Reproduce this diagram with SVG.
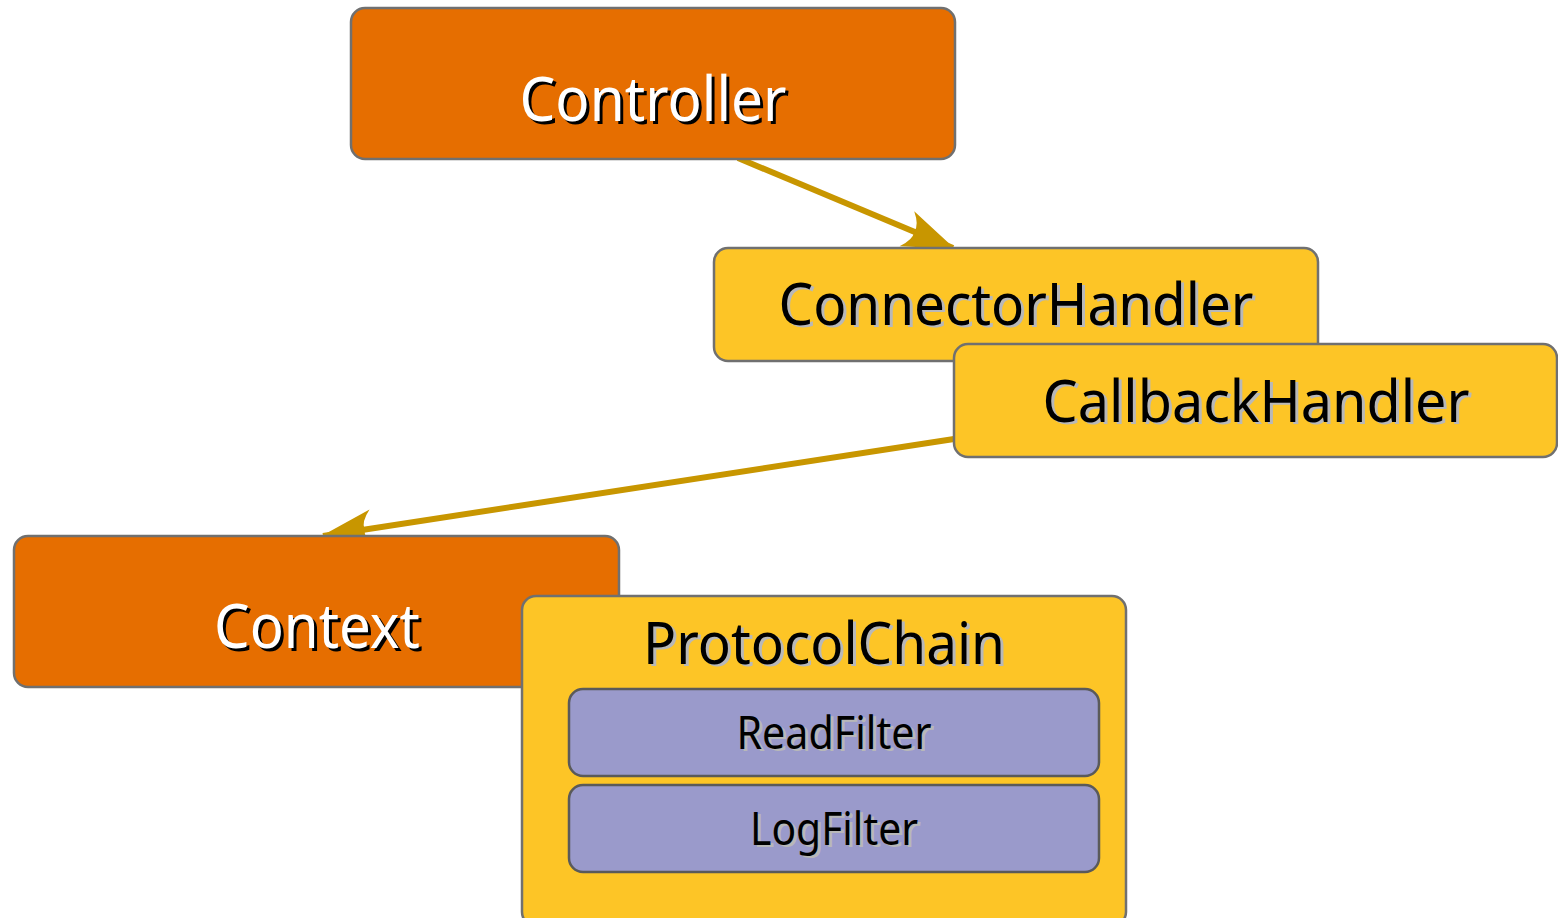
<svg xmlns="http://www.w3.org/2000/svg" width="1558" height="918" viewBox="0 0 1558 918">
<defs>
<style>
.box{stroke:#707070;stroke-width:2.5}
.orange{fill:#E66E00}
.yellow{fill:#FDC526}
.purple{fill:#9A9ACB}
.t{font-family:"Noto Sans","Open Sans",sans-serif;text-anchor:middle}
.tw{fill:#ffffff}
.tws{fill:#000000}
.tb{fill:#000000}
.tbs{fill:#b8b8b8}
.edge{stroke:#C89600;stroke-width:6;fill:none}
</style>
<marker id="arrow" markerUnits="userSpaceOnUse" viewBox="0 0 52 40" refX="50" refY="20" markerWidth="52" markerHeight="40" orient="auto" overflow="visible">
<path d="M0,1 Q10,12 8,20 Q10,28 0,39 L52,20 Z" fill="#C89600"/>
</marker>
</defs>
<g id="connectors">
<path class="edge" d="M738,158 L953,248" marker-end="url(#arrow)"/>
<path class="edge" d="M954,439 L323,536" marker-end="url(#arrow)"/>
</g>
<g id="controller">
<rect class="box orange" x="351" y="8" width="604" height="151" rx="14"/>
<text class="t tws" x="656" y="124" font-size="62" textLength="267" lengthAdjust="spacingAndGlyphs">Controller</text>
<text class="t tw" x="653" y="121" font-size="62" textLength="267" lengthAdjust="spacingAndGlyphs">Controller</text>
</g>
<g id="connectorhandler">
<rect class="box yellow" x="714" y="248" width="604" height="113" rx="14"/>
<text class="t tbs" x="1019" y="327" font-size="58" textLength="475" lengthAdjust="spacingAndGlyphs">ConnectorHandler</text>
<text class="t tb" x="1016" y="325" font-size="58" textLength="475" lengthAdjust="spacingAndGlyphs">ConnectorHandler</text>
</g>
<g id="callbackhandler">
<rect class="box yellow" x="954" y="344" width="603" height="113" rx="14"/>
<text class="t tbs" x="1259" y="424" font-size="58" textLength="427" lengthAdjust="spacingAndGlyphs">CallbackHandler</text>
<text class="t tb" x="1256" y="422" font-size="58" textLength="427" lengthAdjust="spacingAndGlyphs">CallbackHandler</text>
</g>
<g id="context">
<rect class="box orange" x="14" y="536" width="605" height="151" rx="14"/>
<text class="t tws" x="320" y="651" font-size="62" textLength="206" lengthAdjust="spacingAndGlyphs">Context</text>
<text class="t tw" x="317" y="648" font-size="62" textLength="206" lengthAdjust="spacingAndGlyphs">Context</text>
</g>
<g id="protocolchain">
<rect class="box yellow" x="522" y="596" width="604" height="330" rx="14"/>
<text class="t tbs" x="827" y="666" font-size="58" textLength="362" lengthAdjust="spacingAndGlyphs">ProtocolChain</text>
<text class="t tb" x="824" y="664" font-size="58" textLength="362" lengthAdjust="spacingAndGlyphs">ProtocolChain</text>
</g>
<g id="readfilter">
<rect class="box purple" x="569" y="689" width="530" height="87" rx="14" style="stroke:#5a5a5a"/>
<text class="t tbs" x="837" y="751" font-size="46" textLength="195" lengthAdjust="spacingAndGlyphs">ReadFilter</text>
<text class="t tb" x="834" y="749" font-size="46" textLength="195" lengthAdjust="spacingAndGlyphs">ReadFilter</text>
</g>
<g id="logfilter">
<rect class="box purple" x="569" y="785" width="530" height="87" rx="14" style="stroke:#5a5a5a"/>
<text class="t tbs" x="837" y="847" font-size="46" textLength="168" lengthAdjust="spacingAndGlyphs">LogFilter</text>
<text class="t tb" x="834" y="845" font-size="46" textLength="168" lengthAdjust="spacingAndGlyphs">LogFilter</text>
</g>
</svg>
